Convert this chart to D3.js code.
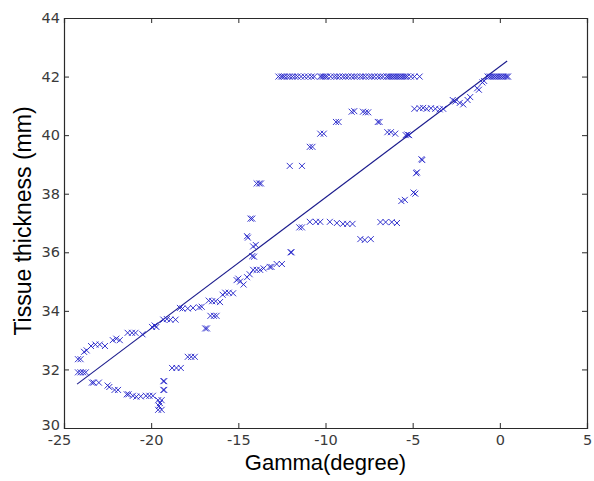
<!DOCTYPE html>
<html>
<head>
<meta charset="utf-8">
<script src="https://cdn.jsdelivr.net/npm/d3@7/dist/d3.min.js"></script>
<style>
  html, body { margin: 0; padding: 0; background: #fff; }
  svg { display: block; }
</style>
</head>
<body>
<svg id="chart" width="594" height="481"></svg>
<script>
// ---- data ----
const xTicks = [-25, -20, -15, -10, -5, 0, 5];
const yTicks = [30, 32, 34, 36, 38, 40, 42, 44];
const xLabel = "Gamma(degree)";
const yLabel = "Tissue thickness (mm)";

// measured samples (Gamma in degrees)
const gamma = [
  // left cluster
  -24.2, -24.05, -24.2, -24.05, -23.9, -23.75,
  // upper branch along the fit
  -23.85, -23.7, -23.45, -23.2, -22.95, -22.65, -22.2, -22.0, -21.8, -21.35, -21.1, -20.9, -20.5,
  -19.95, -19.8, -19.7, -19.3, -19.1, -18.9, -18.6, -18.35, -18.2, -17.9, -17.6, -17.25, -17.1,
  -16.7, -16.5, -16.3, -16.05, -15.9, -15.75, -15.55, -15.3, -15.1, -15.0, -14.9, -14.7, -14.5,
  -14.35, -14.15, -13.95, -13.75, -13.55, -13.2, -13.1, -12.8, -12.5, -12.0, -11.95,
  // near-vertical rise
  -14.2, -14.1, -14.15, -14.0, -14.5, -14.45, -14.3, -14.2, -13.95, -13.8, -13.7,
  -16.6, -16.4, -16.25, -16.9, -16.8,
  // lower branch
  -23.4, -23.3, -23.0, -22.5, -22.4, -22.1, -21.9, -21.4, -21.3, -21.05, -20.85, -20.6, -20.3,
  -20.1, -19.9, -19.6, -19.5, -19.55, -19.6, -19.4, -19.4, -19.3, -19.25, -19.3, -19.25,
  -18.8, -18.55, -18.3, -17.9, -17.7, -17.5,
  // upper arc
  -12.05, -11.35, -10.9, -10.75, -10.3, -10.1, -9.4, -9.25, -8.5, -8.35, -7.85, -7.7, -7.55,
  -7.0, -6.9, -6.45, -6.25, -6.0, -5.4, -5.3, -5.2,
  -4.9, -4.6, -4.4, -4.2, -3.95, -3.7, -3.45, -3.25, -2.7, -2.55, -2.3, -2.1, -1.85, -1.7,
  -1.3, -1.2, -1.0, -0.9, -0.7,
  // right saturated bar
  -0.6, -0.5, -0.4, -0.3, -0.2, -0.1, 0.0, 0.1, 0.2, 0.3, 0.4, 0.47,
  // lower right arc
  -4.5, -4.45, -4.75, -4.8, -4.95, -4.85, -5.45, -5.65,
  -11.5, -11.35, -10.9, -10.55, -10.3, -9.75, -9.35, -9.0, -8.75, -8.45,
  -8.0, -7.75, -7.4, -6.85, -6.55, -6.2, -5.9,
  // saturated top row
  -12.7, -12.55, -12.45, -12.35, -12.2, -12.05, -11.9, -11.75, -11.6, -11.4, -11.2, -11.0, -10.8, -10.65,
  -10.3, -10.2, -10.1, -10.0, -9.9, -9.7, -9.5, -9.35, -9.2, -9.0, -8.85, -8.7, -8.5, -8.35,
  -8.2, -8.0, -7.85, -7.7, -7.5, -7.35, -7.2, -7.0, -6.85, -6.7, -6.5, -6.4, -6.3, -6.2, -6.1,
  -6.0, -5.9, -5.8, -5.7, -5.6, -5.5, -5.4, -5.3, -5.1, -4.9, -4.6
];

// measured thickness (mm)
const thickness = [
  32.35, 32.35, 31.9, 31.9, 31.9, 31.9,
  32.6, 32.65, 32.8, 32.85, 32.85, 32.8, 33.0, 33.05, 33.0, 33.25, 33.25, 33.25, 33.2,
  33.45, 33.5, 33.45, 33.7, 33.72, 33.7, 33.7, 34.1, 34.08, 34.08, 34.1, 34.12, 34.14,
  34.35, 34.33, 34.33, 34.3, 34.55, 34.62, 34.62, 34.6, 35.05, 35.1, 35.0, 34.9, 35.15,
  35.25, 35.4, 35.4, 35.4, 35.45, 35.5, 35.5, 35.6, 35.6, 36.0, 36.0,
  35.87, 35.85, 36.2, 36.25, 36.55, 36.5, 37.15, 37.15, 38.35, 38.35, 38.35,
  33.83, 33.83, 33.83, 33.4, 33.4,
  31.55, 31.55, 31.55, 31.45, 31.4, 31.3, 31.3, 31.15, 31.15, 31.1, 31.07, 31.08, 31.1,
  31.1, 31.1, 30.95, 30.85, 30.75, 30.62, 30.62, 30.95, 31.3, 31.3, 31.6, 31.6,
  32.05, 32.05, 32.05, 32.43, 32.43, 32.43,
  38.95, 38.95, 39.6, 39.6, 40.05, 40.05, 40.45, 40.45, 40.8, 40.82, 40.8, 40.78, 40.78,
  40.45, 40.45, 40.1, 40.1, 40.05, 40.0, 40.02, 40.0,
  40.9, 40.92, 40.93, 40.9, 40.92, 40.9, 40.88, 40.9, 41.2, 41.15, 41.1, 41.05, 41.2, 41.3,
  41.6, 41.55, 41.8, 41.85, 42.0,
  42.0, 42.0, 42.0, 42.0, 42.0, 42.0, 42.0, 42.0, 42.0, 42.0, 42.0, 42.0,
  39.18, 39.15, 38.73, 38.7, 38.04, 38.0, 37.79, 37.75,
  36.85, 36.85, 37.04, 37.04, 37.04, 37.04, 37.0, 36.97, 36.97, 36.97,
  36.45, 36.42, 36.45, 37.03, 37.03, 37.03, 37.0,
  42.0, 42.0, 42.0, 42.0, 42.0, 42.0, 42.0, 42.0, 42.0, 42.0, 42.0, 42.0, 42.0, 42.0,
  42.0, 42.0, 42.0, 42.0, 42.0, 42.0, 42.0, 42.0, 42.0, 42.0, 42.0, 42.0, 42.0, 42.0,
  42.0, 42.0, 42.0, 42.0, 42.0, 42.0, 42.0, 42.0, 42.0, 42.0, 42.0, 42.0, 42.0, 42.0, 42.0,
  42.0, 42.0, 42.0, 42.0, 42.0, 42.0, 42.0, 42.0, 42.0, 42.0, 42.0
];

// linear fit endpoints
const fitGamma = [-24.25, 0.42];
const fitThickness = [31.5, 42.53];

// ---- layout ----
const svg = d3.select("#chart");
const mLeft = 64, mRight = 587, mTop = 18, mBottom = 428;

const x = d3.scaleLinear().domain([-25, 5]).range([mLeft, mRight]);
const y = d3.scaleLinear().domain([30, 44]).range([mBottom, mTop]);

const axisColor = "#2a2a2a";
const tickFont = "DejaVu Sans, sans-serif";
const labelFont = "Liberation Sans, Arial, sans-serif";

// axes (MATLAB style: inward ticks, box)
const gx = svg.append("g").attr("transform", `translate(0,${mBottom})`)
  .call(d3.axisBottom(x).tickValues(xTicks).tickSize(-5).tickPadding(6).tickFormat(d3.format("d")));
const gxTop = svg.append("g").attr("transform", `translate(0,${mTop})`)
  .call(d3.axisTop(x).tickValues(xTicks).tickSize(-5).tickFormat(""));
const gy = svg.append("g").attr("transform", `translate(${mLeft},0)`)
  .call(d3.axisLeft(y).tickValues(yTicks).tickSize(-5).tickPadding(4).tickFormat(d3.format("d")));
const gyRight = svg.append("g").attr("transform", `translate(${mRight},0)`)
  .call(d3.axisRight(y).tickValues(yTicks).tickSize(-5).tickFormat(""));

[gx, gxTop, gy, gyRight].forEach(g => {
  g.select(".domain").attr("stroke", axisColor).attr("stroke-width", 1.2);
  g.selectAll(".tick line").attr("stroke", axisColor).attr("stroke-width", 1);
  g.selectAll("text").attr("fill", "#3a3a3a").style("font-family", tickFont).style("font-size", "14.5px");
});
gx.selectAll(".tick text").text(d => d < 0 ? "-" + Math.abs(d) : d)
  .attr("dx", d => d === -25 ? "-5px" : null)
  .attr("dy", "0.75em");
gy.selectAll(".tick text").attr("dy", d => d === 30 ? "0.1em" : "0.32em");

// fit line
const pts = fitGamma.map((g, i) => [g, fitThickness[i]]);
svg.append("path")
  .datum(pts)
  .attr("d", d3.line().x(d => x(d[0])).y(d => y(d[1])))
  .attr("fill", "none")
  .attr("stroke", "#1a1a8c")
  .attr("stroke-width", 1.1);

// markers
const r = 3;
const n = Math.min(gamma.length, thickness.length);
const data = d3.range(n).map(i => [gamma[i], thickness[i]]);
svg.append("g").selectAll("path")
  .data(data)
  .join("path")
  .attr("d", d => {
    const cx = x(d[0]), cy = y(d[1]);
    return `M${cx - r},${cy - r}L${cx + r},${cy + r}M${cx - r},${cy + r}L${cx + r},${cy - r}`;
  })
  .attr("stroke", "#2020c8")
  .attr("stroke-width", 0.9)
  .attr("fill", "none");

// labels
svg.append("text")
  .attr("x", (mLeft + mRight) / 2)
  .attr("y", 470)
  .attr("text-anchor", "middle")
  .style("font-family", labelFont)
  .style("font-size", "22px")
  .attr("fill", "#000")
  .text(xLabel);

svg.append("text")
  .attr("transform", `translate(31,${(mTop + mBottom) / 2 - 2}) rotate(-90)`)
  .attr("text-anchor", "middle")
  .style("font-family", labelFont)
  .style("font-size", "23px")
  .attr("fill", "#000")
  .text(yLabel);
</script>
</body>
</html>
